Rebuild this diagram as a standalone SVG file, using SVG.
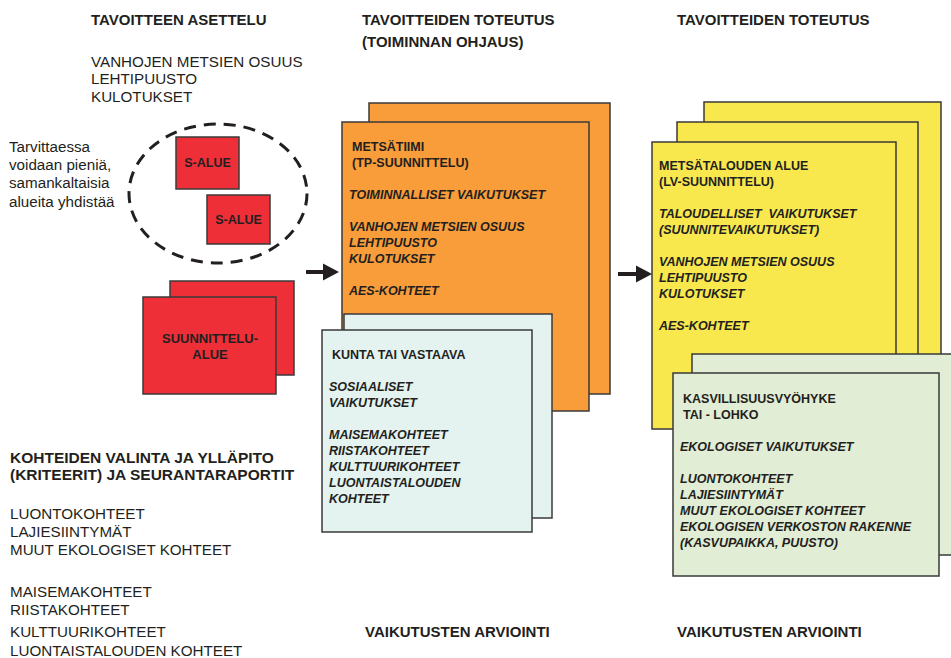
<svg xmlns="http://www.w3.org/2000/svg" width="951" height="658" viewBox="0 0 951 658">
  <style>
    text { font-family: "Liberation Sans", Arial, sans-serif; fill: #231f20; }
    .h { font-size: 15px; font-weight: bold; }
    .r { font-size: 15.2px; }
    .b { font-size: 12.5px; font-weight: bold; }
    .bi { font-size: 12.5px; font-weight: bold; font-style: italic; }
    .box { stroke: #3a3a3a; stroke-width: 1.5; }
    .red { fill: #ef2f38; }
    .orange { fill: #f89d3a; }
    .blue { fill: #e4f3f0; }
    .yellow { fill: #f8e84e; }
    .green { fill: #e2edd5; }
  </style>

  <!-- Column headings -->
  <g id="headings">
    <text class="h" x="91" y="25">TAVOITTEEN ASETTELU</text>
    <text class="h" x="362" y="25">TAVOITTEIDEN TOTEUTUS</text>
    <text class="h" x="362" y="47">(TOIMINNAN OHJAUS)</text>
    <text class="h" x="677" y="25">TAVOITTEIDEN TOTEUTUS</text>
    <text class="h" x="365" y="637">VAIKUTUSTEN ARVIOINTI</text>
    <text class="h" x="677" y="637">VAIKUTUSTEN ARVIOINTI</text>
  </g>

  <g id="goal-list">
    <text class="r" x="91" y="67">VANHOJEN METSIEN OSUUS</text>
    <text class="r" x="91" y="84">LEHTIPUUSTO</text>
    <text class="r" x="91" y="101.5">KULOTUKSET</text>
  </g>

  <g id="merge-note">
    <text class="r" x="9" y="152">Tarvittaessa</text>
    <text class="r" x="9" y="170">voidaan pieniä,</text>
    <text class="r" x="9" y="188">samankaltaisia</text>
    <text class="r" x="9" y="206.5">alueita yhdistää</text>
  </g>

  <!-- Small areas grouped by a dashed outline -->
  <g id="merge-group">
    <ellipse cx="218" cy="193.5" rx="89" ry="69.5" fill="none" stroke="#231f20" stroke-width="3" stroke-dasharray="12 8"/>
  </g>
  <g id="s-alue-1">
    <rect class="box red" x="176" y="137" width="63" height="52"/>
    <text class="b" x="207.5" y="167" text-anchor="middle">S-ALUE</text>
  </g>
  <g id="s-alue-2">
    <rect class="box red" x="207" y="195" width="63" height="49"/>
    <text class="b" x="238.5" y="224" text-anchor="middle">S-ALUE</text>
  </g>

  <g id="suunnittelualue">
    <rect class="box red" x="170" y="281" width="124" height="94"/>
    <rect class="box red" x="143" y="297" width="133" height="97"/>
    <text class="b" x="210" y="343" text-anchor="middle" style="font-size:13px">SUUNNITTELU-</text>
    <text class="b" x="210" y="359" text-anchor="middle" style="font-size:13px">ALUE</text>
  </g>

  <!-- Forest team stack -->
  <g id="metsatiimi">
    <rect class="box orange" x="369" y="103" width="241" height="291"/>
    <rect class="box orange" x="342" y="122" width="247" height="289"/>
    <text class="b" x="352" y="151">METSÄTIIMI</text>
    <text class="b" x="352" y="167">(TP-SUUNNITTELU)</text>
    <text class="bi" x="349" y="199">TOIMINNALLISET VAIKUTUKSET</text>
    <text class="bi" x="349" y="231">VANHOJEN METSIEN OSUUS</text>
    <text class="bi" x="349" y="247">LEHTIPUUSTO</text>
    <text class="bi" x="349" y="263">KULOTUKSET</text>
    <text class="bi" x="349" y="295">AES-KOHTEET</text>
  </g>

  <g id="kunta">
    <rect class="box blue" x="344" y="314" width="208" height="204"/>
    <rect class="box blue" x="322" y="330" width="210" height="202"/>
    <text class="b" x="332" y="359">KUNTA TAI VASTAAVA</text>
    <text class="bi" x="329" y="391">SOSIAALISET</text>
    <text class="bi" x="329" y="407">VAIKUTUKSET</text>
    <text class="bi" x="329" y="439">MAISEMAKOHTEET</text>
    <text class="bi" x="329" y="455">RIISTAKOHTEET</text>
    <text class="bi" x="329" y="471">KULTTUURIKOHTEET</text>
    <text class="bi" x="329" y="487">LUONTAISTALOUDEN</text>
    <text class="bi" x="329" y="503">KOHTEET</text>
  </g>

  <!-- Forestry area stack -->
  <g id="metsatalouden-alue">
    <rect class="box yellow" x="704" y="102" width="237" height="280"/>
    <rect class="box yellow" x="677" y="122" width="241" height="260"/>
    <rect class="box yellow" x="652" y="142" width="244" height="287"/>
    <text class="b" x="659" y="170">METSÄTALOUDEN ALUE</text>
    <text class="b" x="659" y="186">(LV-SUUNNITTELU)</text>
    <text class="bi" x="659" y="218" xml:space="preserve">TALOUDELLISET  VAIKUTUKSET</text>
    <text class="bi" x="659" y="234">(SUUNNITEVAIKUTUKSET)</text>
    <text class="bi" x="659" y="266">VANHOJEN METSIEN OSUUS</text>
    <text class="bi" x="659" y="282">LEHTIPUUSTO</text>
    <text class="bi" x="659" y="298">KULOTUKSET</text>
    <text class="bi" x="659" y="330">AES-KOHTEET</text>
  </g>

  <g id="kasvillisuusvyohyke">
    <rect class="box green" x="692" y="354" width="265" height="201"/>
    <rect class="box green" x="673" y="373" width="266" height="203"/>
    <text class="b" x="683" y="403">KASVILLISUUSVYÖHYKE</text>
    <text class="b" x="683" y="419">TAI - LOHKO</text>
    <text class="bi" x="680" y="451">EKOLOGISET VAIKUTUKSET</text>
    <text class="bi" x="680" y="483">LUONTOKOHTEET</text>
    <text class="bi" x="680" y="499">LAJIESIINTYMÄT</text>
    <text class="bi" x="680" y="515">MUUT EKOLOGISET KOHTEET</text>
    <text class="bi" x="680" y="531">EKOLOGISEN VERKOSTON RAKENNE</text>
    <text class="bi" x="680" y="547">(KASVUPAIKKA, PUUSTO)</text>
  </g>

  <g id="criteria">
    <text class="h" x="10" y="463" style="font-size:15.5px">KOHTEIDEN VALINTA JA YLLÄPITO</text>
    <text class="h" x="10" y="480" style="font-size:15.5px">(KRITEERIT) JA SEURANTARAPORTIT</text>
    <text class="r" x="10" y="519">LUONTOKOHTEET</text>
    <text class="r" x="10" y="537">LAJIESIINTYMÄT</text>
    <text class="r" x="10" y="555">MUUT EKOLOGISET KOHTEET</text>
    <text class="r" x="10" y="597">MAISEMAKOHTEET</text>
    <text class="r" x="10" y="615">RIISTAKOHTEET</text>
    <text class="r" x="10" y="637">KULTTUURIKOHTEET</text>
    <text class="r" x="10" y="656">LUONTAISTALOUDEN KOHTEET</text>
  </g>

  <!-- Flow arrows between the columns -->
  <g id="connectors" fill="#231f20" stroke="#231f20">
    <line x1="306" y1="272" x2="325" y2="272" stroke-width="4"/>
    <polygon points="323,263.5 339,272 323,280.5" stroke="none"/>
    <line x1="618" y1="274" x2="638" y2="274" stroke-width="4"/>
    <polygon points="636,265.5 652,274 636,282.5" stroke="none"/>
  </g>
</svg>
